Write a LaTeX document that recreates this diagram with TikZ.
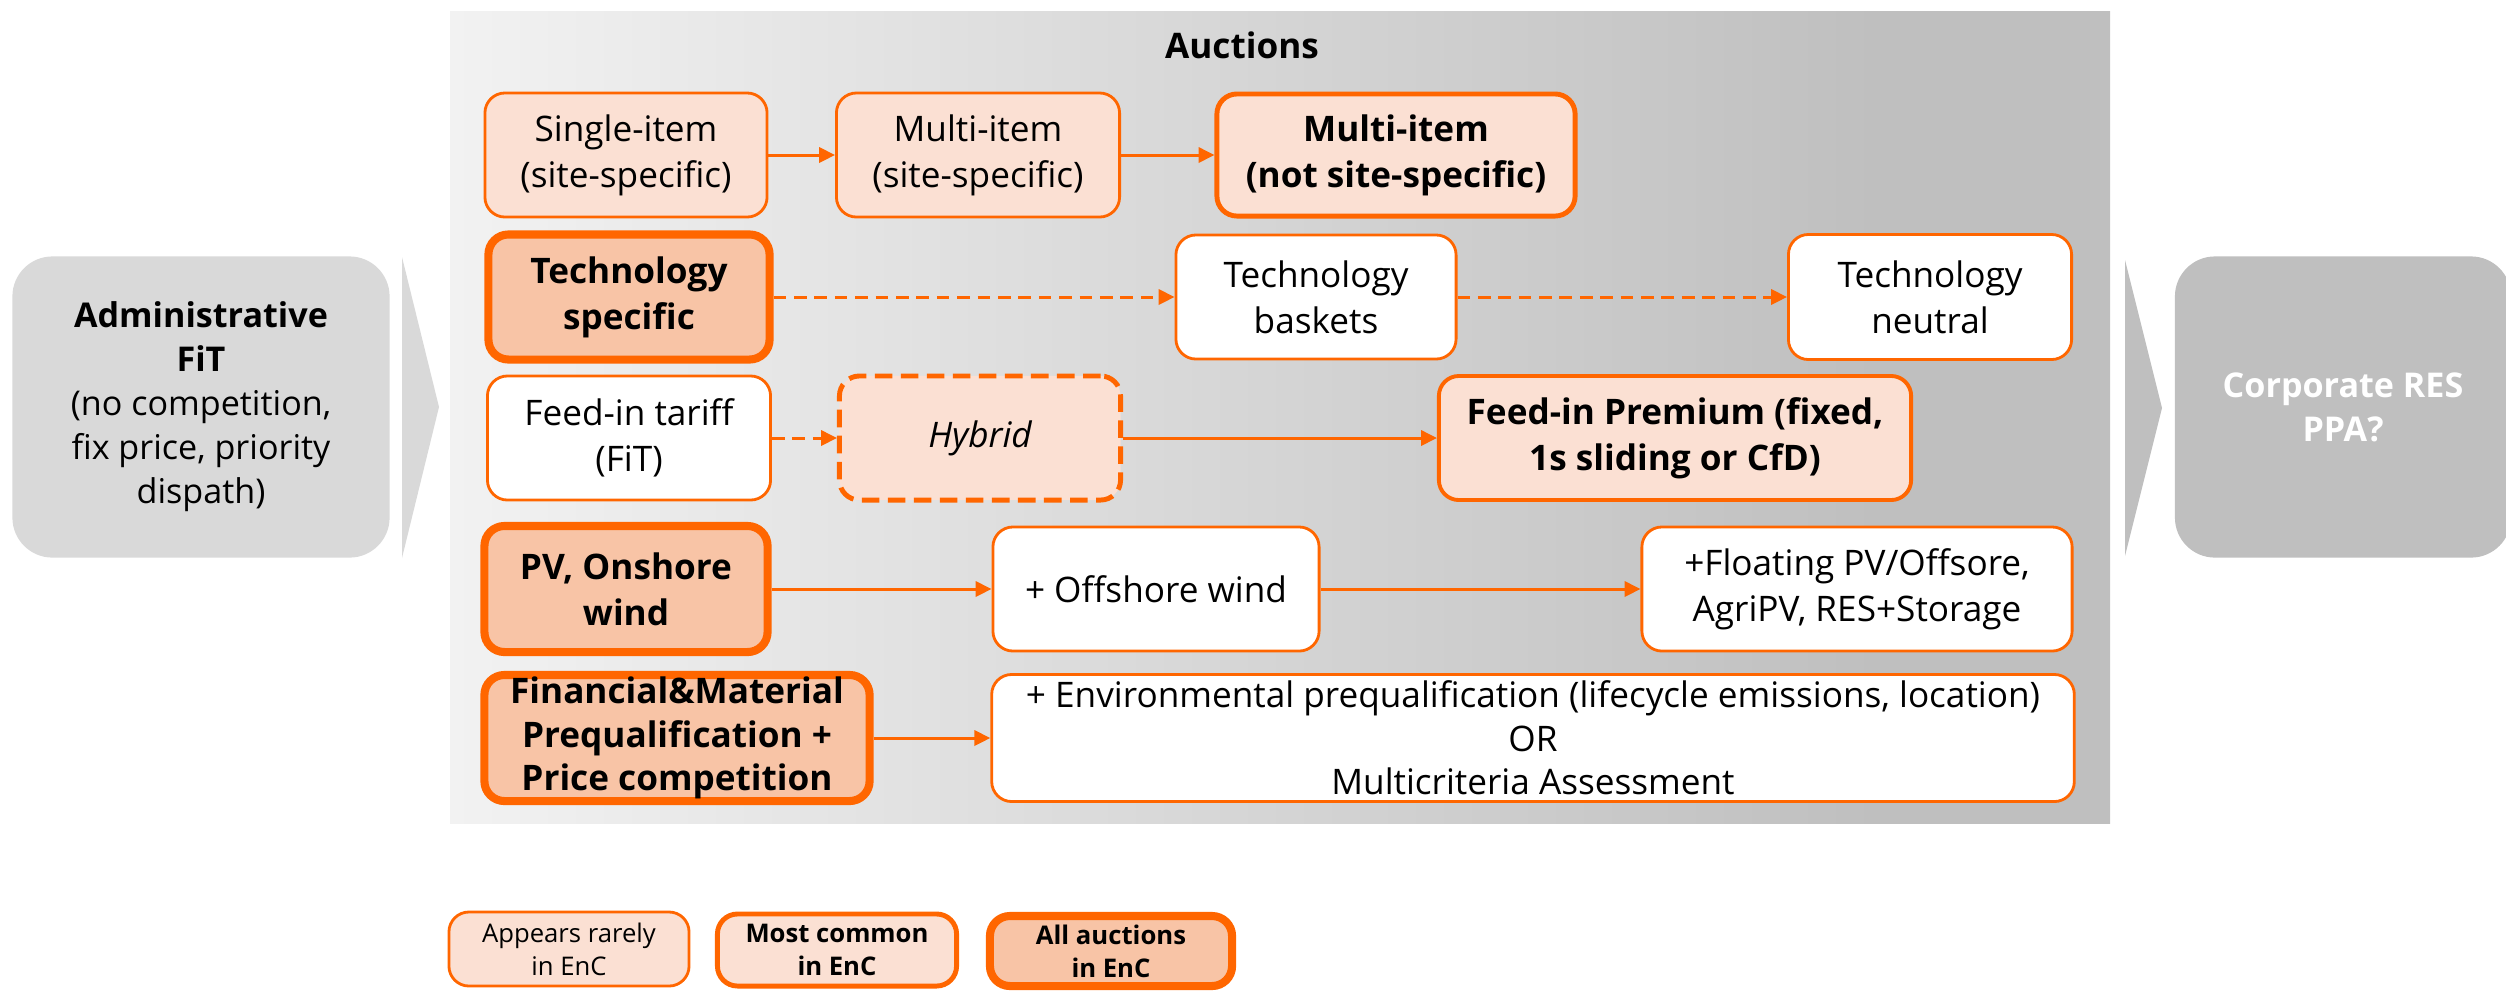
\documentclass[tikz,border=0pt]{standalone}
\usepackage{fontspec}
\setmainfont{Open Sans}
\usepackage{tikz}
\usetikzlibrary{arrows.meta}
\definecolor{orangeEnC}{RGB}{255,102,0}
\definecolor{saumon}{RGB}{251,224,211}
\definecolor{saumonfonce}{RGB}{248,196,166}
\definecolor{grisclair}{RGB}{217,217,217}
\definecolor{grisfonce}{RGB}{191,191,191}
\definecolor{fondG}{RGB}{242,242,242}
\pgfdeclarehorizontalshading{fondenchere}{100bp}{color(0bp)=(fondG); color(25bp)=(fondG); color(68bp)=(grisfonce); color(100bp)=(grisfonce)}
\tikzstyle{lien} = [-{Triangle[length=4.5pt,width=4.3pt]},draw=orangeEnC,line width=0.85pt]
\tikzstyle{lien2} = [lien,dash pattern=on 3.6pt off 2.2pt]
\tikzstyle{boite} = [draw=orangeEnC,rounded corners=0.2cm,align=center,inner sep=0pt,line width=0.8pt,font=\fontsize{10}{13}\selectfont]
\tikzstyle{blanc} = [boite,fill=white]
\tikzstyle{rare} = [boite,fill=saumon]
\tikzstyle{commun} = [boite,fill=saumon,line width=1.4pt,font=\fontsize{10}{13}\selectfont\bfseries]
\tikzstyle{tous} = [boite,fill=saumonfonce,line width=2.3pt,font=\fontsize{10}{13}\selectfont\bfseries]
\tikzstyle{gris} = [rounded corners=0.4cm,align=center,inner sep=0pt,font=\fontsize{9.7}{12.5}\selectfont]

\begin{document}
\begin{tikzpicture}[x=0.01cm,y=-0.01cm]
	\useasboundingbox (0,0) rectangle (2506,990);

	% before and after the auctions
	\node[gris,fill=grisclair,minimum width=3.77cm,minimum height=3.01cm] (admin) at (201,407)
		{\textbf{Administrative}\\\textbf{FiT}\\(no competition,\\fix price, priority\\dispath)};
	\fill[grisclair] (402,257) -- (439,407) -- (402,558) -- cycle;
	\fill[grisfonce] (2125,260) -- (2162,408) -- (2125,556) -- cycle;
	\node[gris,fill=grisfonce,text=white,font=\fontsize{9.7}{12.5}\selectfont\bfseries,
		minimum width=3.36cm,minimum height=3.01cm] (ppa) at (2343,407) {Corporate RES\\PPA?};

	% auctions
	\shade[shading=fondenchere] (450,11) rectangle (2110,823);
	\node[font=\fontsize{10}{13}\selectfont\bfseries] (titre) at (1242,45) {Auctions};

	\node[rare,minimum width=2.82cm,minimum height=1.24cm] (single) at (626,155) {Single-item\\(site-specific)};
	\node[rare,minimum width=2.83cm,minimum height=1.24cm] (multi) at (978,155) {Multi-item\\(site-specific)};
	\node[commun,minimum width=3.58cm,minimum height=1.22cm] (multins) at (1396,155) {Multi-item\\(not site-specific)};
	\draw[lien] (single) -- (multi);
	\draw[lien] (multi) -- (multins);

	\node[tous,minimum width=2.81cm,minimum height=1.25cm] (techspec) at (629,297) {Technology\\specific};
	\node[blanc,minimum width=2.80cm,minimum height=1.24cm] (baskets) at (1316,297) {Technology\\baskets};
	\node[blanc,minimum width=2.83cm,minimum height=1.25cm] (neutral) at (1930,297) {Technology\\neutral};
	\draw[lien2] (techspec) -- (baskets);
	\draw[lien2] (baskets) -- (neutral);

	\node[blanc,minimum width=2.83cm,minimum height=1.24cm] (fit) at (629,438) {Feed-in tariff\\(FiT)};
	\node[rare,line width=1.4pt,dash pattern=on 5pt off 2.4pt,font=\fontsize{10}{13}\selectfont\itshape,
		minimum width=2.81cm,minimum height=1.24cm] (hybrid) at (980,438) {Hybrid};
	\node[rare,line width=1.1pt,font=\fontsize{10}{13}\selectfont\bfseries,
		minimum width=4.72cm,minimum height=1.24cm] (fip) at (1675,438) {Feed-in Premium (fixed,\\1s sliding or CfD)};
	\draw[lien2] (fit) -- (hybrid);
	\draw[lien] (hybrid) -- (fip);

	\node[tous,minimum width=2.83cm,minimum height=1.26cm] (pv) at (626,589) {PV, Onshore\\wind};
	\node[blanc,minimum width=3.26cm,minimum height=1.24cm] (offshore) at (1156,589) {+ Offshore wind};
	\node[blanc,minimum width=4.30cm,minimum height=1.24cm] (floating) at (1857,589) {+Floating PV/Offsore,\\AgriPV, RES+Storage};
	\draw[lien] (pv) -- (offshore);
	\draw[lien] (offshore) -- (floating);

	\node[tous,font=\fontsize{10}{12.4}\selectfont\bfseries,minimum width=3.85cm,minimum height=1.26cm] (financial) at (677,738)
		{Financial\&Material\\Prequalification +\\Price competition};
	\node[blanc,font=\fontsize{10}{12.4}\selectfont,minimum width=10.82cm,minimum height=1.27cm] (environ) at (1533,738)
		{+ Environmental prequalification (lifecycle emissions, location)\\OR\\Multicriteria Assessment};
	\draw[lien] (financial) -- (environ);

	% legend
	\node[rare,font=\fontsize{7.3}{9.4}\selectfont,minimum width=2.40cm,minimum height=0.74cm] (legrare) at (569,949) {Appears rarely\\in EnC};
	\node[commun,font=\fontsize{7.3}{9.4}\selectfont\bfseries,minimum width=2.39cm,minimum height=0.72cm] (legcommun) at (837,950) {Most common\\in EnC};
	\node[tous,font=\fontsize{7.3}{9.4}\selectfont\bfseries,minimum width=2.42cm,minimum height=0.70cm] (legtous) at (1111,951) {All auctions\\in EnC};
\end{tikzpicture}
\end{document}
